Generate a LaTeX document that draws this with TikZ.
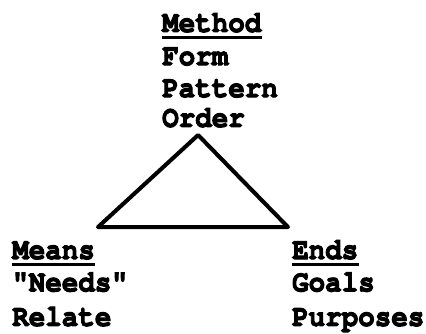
\documentclass[tikz,border=0pt]{standalone}
\usepackage{fontspec}
\newfontfamily\typer[FakeBold=3.5]{TeX Gyre Cursor Bold}
\begin{document}
\begin{tikzpicture}[font=\typer\fontsize{18.4}{22}\selectfont,
    word/.style={anchor=base west, inner sep=0pt, yscale=1.1, transform shape},
    edge/.style={line width=2.7pt, line join=round, line cap=round},
    bar/.style={line width=2.2pt}]
        \useasboundingbox (0,0) rectangle (10,7.84);

        % Method (top)
        \node[word] (method) at (3.80,7.09) {Method};
        \node[word] (form) at (3.80,6.31) {Form};
        \node[word] (pattern) at (3.80,5.56) {Pattern};
        \node[word] (order) at (3.80,4.86) {Order};
        \draw[bar] ([yshift=-3.5pt]method.base west) -- ([yshift=-3.5pt]method.base east);

        % Triangle
        \coordinate (apex) at (4.65,4.67);
        \coordinate (lft) at (2.30,2.51);
        \coordinate (rgt) at (6.76,2.51);
        \draw[edge] (apex) -- (rgt) -- (lft) -- cycle;

        % Means (left)
        \node[word] (means) at (0.28,1.76) {Means};
        \node[word] (needs) at (0.28,1.0) {"Needs"};
        \node[word] (relate) at (0.28,0.19) {Relate};
        \draw[bar] ([yshift=-3.5pt]means.base west) -- ([yshift=-3.5pt]means.base east);

        % Ends (right)
        \node[word] (ends) at (6.85,1.76) {Ends};
        \node[word] (goals) at (6.85,1.0) {Goals};
        \node[word] (purposes) at (6.85,0.19) {Purposes};
        \draw[bar] ([yshift=-3.5pt]ends.base west) -- ([yshift=-3.5pt]ends.base east);
\end{tikzpicture}
\end{document}
